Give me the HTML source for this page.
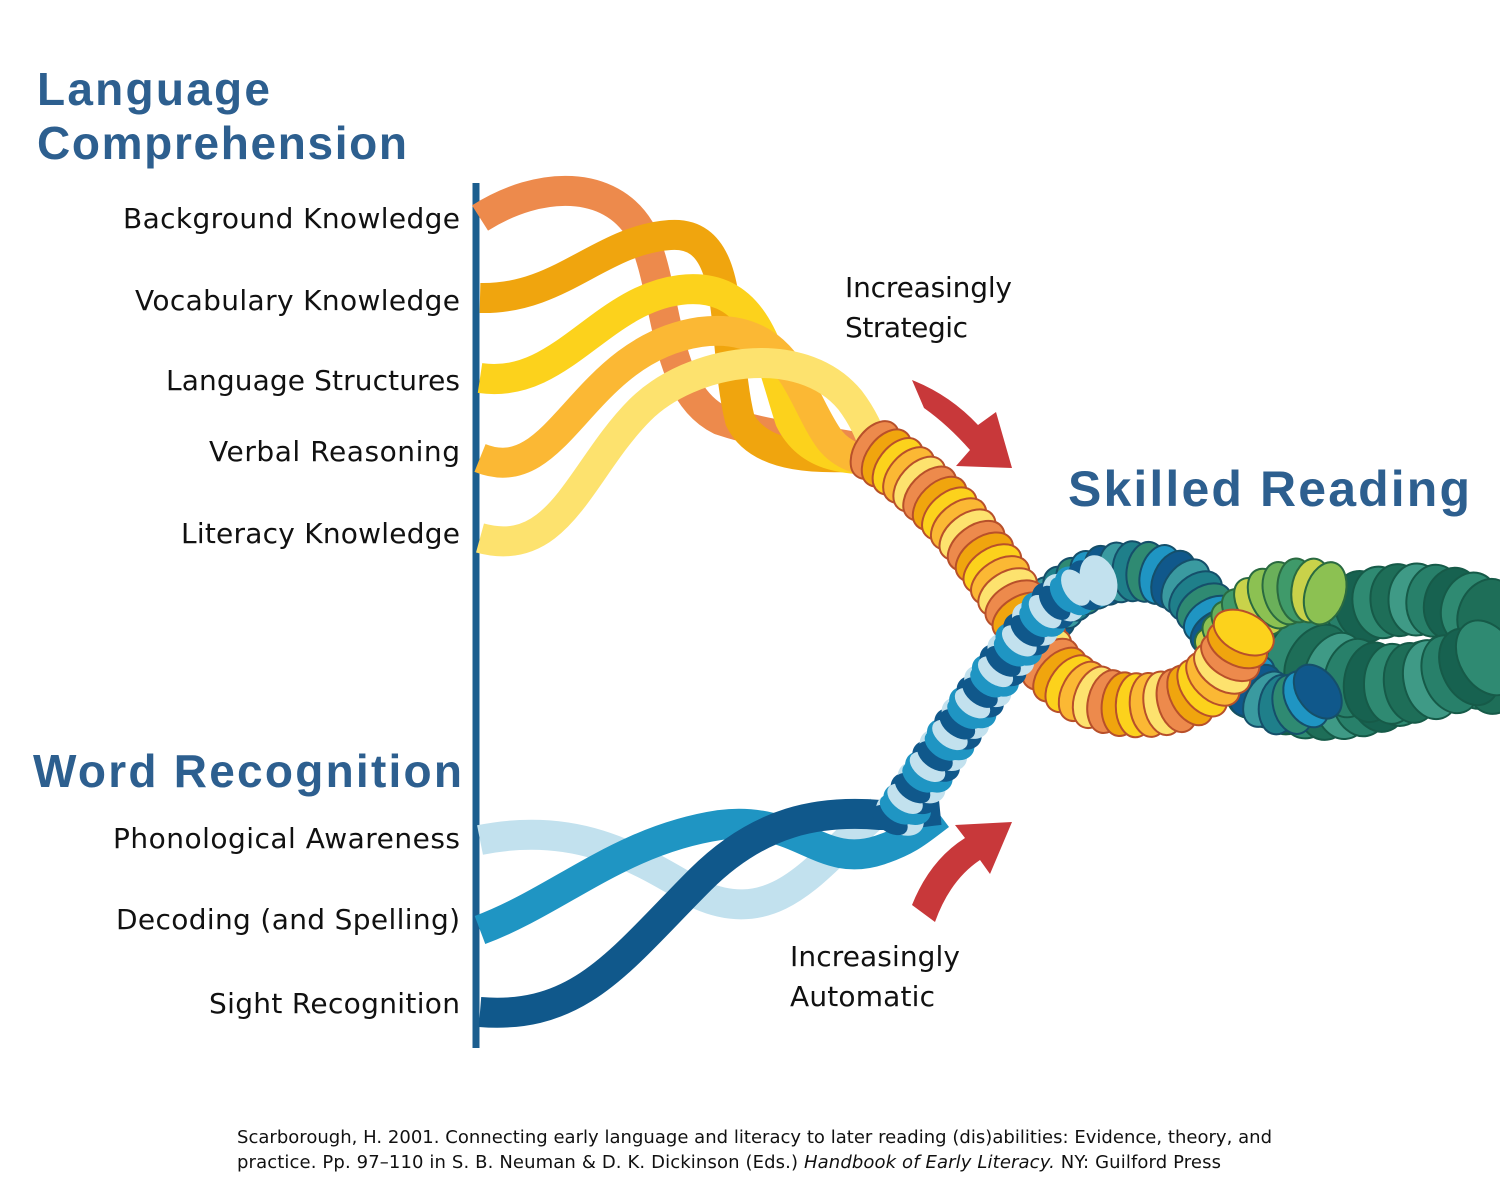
<!DOCTYPE html>
<html><head><meta charset="utf-8"><style>
body{margin:0;background:#fff;}
svg{display:block}
.t{font-family:"Liberation Sans",sans-serif;font-weight:bold;fill:#2d5f8f}
.l{font-family:"DejaVu Sans","Liberation Sans",sans-serif;font-size:28px;fill:#111}
</style></head><body>
<svg id="s" width="1500" height="1200" viewBox="0 0 1500 1200" xmlns="http://www.w3.org/2000/svg">
<rect width="1500" height="1200" fill="#fff"/>
<text class="t" x="37" y="105" font-size="46" textLength="233">Language</text>
<text class="t" x="37" y="159" font-size="46" textLength="370">Comprehension</text>
<text class="t" x="33" y="787" font-size="46" textLength="429">Word Recognition</text>
<text class="t" x="1068" y="506" font-size="50" textLength="402">Skilled Reading</text>
<g class="l" text-anchor="end">
<text x="460" y="228" textLength="337">Background Knowledge</text>
<text x="460" y="310" textLength="325">Vocabulary Knowledge</text>
<text x="460" y="390" textLength="294">Language Structures</text>
<text x="460" y="461" textLength="251">Verbal Reasoning</text>
<text x="460" y="543" textLength="279">Literacy Knowledge</text>
<text x="460" y="848" textLength="347">Phonological Awareness</text>
<text x="460" y="929" textLength="344">Decoding (and Spelling)</text>
<text x="460" y="1013" textLength="251">Sight Recognition</text>
</g>
<g class="l">
<text x="845" y="297" textLength="167">Increasingly</text>
<text x="845" y="337" textLength="123">Strategic</text>
<text x="790" y="966" textLength="170">Increasingly</text>
<text x="790" y="1006" textLength="145">Automatic</text>
</g>
<g font-family="DejaVu Sans,sans-serif" font-size="18" fill="#111">
<text x="237" y="1143" textLength="1035">Scarborough, H. 2001. Connecting early language and literacy to later reading (dis)abilities: Evidence, theory, and</text>
<text x="237" y="1168" textLength="984">practice. Pp. 97–110 in S. B. Neuman &amp; D. K. Dickinson (Eds.) <tspan font-style="italic">Handbook of Early Literacy.</tspan> NY: Guilford Press</text>
</g>
<!-- red arrows -->
<path d="M912 380 Q950 395 978 425 L996 412 L1012 468 L956 466 L970 450 Q948 425 924 408 Z" fill="#c8383a"/>
<path d="M912 905 Q930 860 965 838 L955 825 L1012 822 L990 874 L980 860 Q950 880 935 922 Z" fill="#c8383a"/>
<line x1="476" y1="183" x2="476" y2="1048" stroke="#1b5e8f" stroke-width="7"/>
<g fill="none" stroke-linecap="butt" stroke-width="30">
<path d="M480 218 C540 180 610 180 640 230 C670 290 660 390 720 420 C780 440 830 440 870 450" stroke="#ed8a4c"/>
<path d="M480 298 C560 300 600 240 670 235 C740 230 720 340 740 420 C760 460 820 460 880 455" stroke="#f0a50e"/>
<path d="M480 378 C560 390 600 300 680 290 C760 280 770 360 790 420 C810 460 850 460 890 460" stroke="#fcd21c"/>
<path d="M480 458 C560 490 580 350 700 332 C790 320 800 400 830 440 C850 465 880 460 900 470" stroke="#fbb834"/>
<path d="M480 538 C560 560 580 470 640 410 C690 360 800 340 850 400 C880 440 870 460 900 480" stroke="#fde26e"/>
<path d="M480 840 C580 820 640 860 700 895 C780 930 820 860 880 810" stroke="#c2e1ee"/>
<path d="M480 930 C560 900 620 840 720 825 C800 815 820 870 880 850 C910 840 920 830 940 815" stroke="#1f95c3"/>
<path d="M480 1012 C580 1020 620 960 700 880 C760 820 820 810 880 815 C910 815 920 812 940 810" stroke="#10588b"/>
</g>
<g id="g"></g>
</svg>
<script>
var NS="http://www.w3.org/2000/svg",G=document.getElementById("g");
function chain(d,cols,step,rx,ry,stroke){
 var p=document.createElementNS(NS,"path");p.setAttribute("d",d);G.appendChild(p);
 var L=p.getTotalLength();G.removeChild(p);var i=0;
 for(var s=0;s<=L;s+=step){var a=p.getPointAtLength(s),b=p.getPointAtLength(Math.min(L,s+1));
  var ang=Math.atan2(b.y-a.y,b.x-a.x)*180/Math.PI;
  var e=document.createElementNS(NS,"ellipse");e.setAttribute("cx",a.x);e.setAttribute("cy",a.y);
  e.setAttribute("rx",rx);e.setAttribute("ry",ry);e.setAttribute("fill",cols[i%cols.length]);
  e.setAttribute("stroke",stroke);e.setAttribute("stroke-width",2);
  e.setAttribute("transform","rotate("+ang+" "+a.x+" "+a.y+")");G.appendChild(e);i++;}
}
var warm=["#ed8a4c","#f0a50e","#fcd21c","#fbb834","#fde26e"];
var blue=["#c2e1ee","#1f95c3","#10588b"];
var green=["#2f8a72","#1e6e58","#3f9a86","#28806a","#176250"];
chain("M1300 640 C1360 590 1440 590 1500 620",green,18,28,36,"#165a48");
chain("M1230 660 C1280 720 1360 710 1420 680 C1450 665 1480 670 1500 680",green,18,28,36,"#165a48");
chain("M1300 650 C1360 700 1440 690 1500 650",green,20,28,40,"#165a48");
chain("M1040 625 C1070 570 1150 555 1190 590 C1215 615 1225 650 1255 690 C1280 715 1300 705 1320 690",["#1f95c3","#10588b","#3a9aa0","#1f7f8a","#2f8a72"],14,20,30,"#154f6a");
chain("M1225 650 C1250 600 1290 580 1330 595",["#c9d24a","#8cc152","#6ab05a","#3f9a6a"],14,20,32,"#2a6a40");
chain("M875 450 C950 500 990 560 1030 630 C1060 700 1120 715 1180 700 C1220 685 1235 650 1250 620",warm,14,20,32,"#b8502a");
chain("M900 815 C950 740 990 680 1030 630 C1050 605 1070 590 1100 580",blue,13,18,26,"none");
chain("M890 820 C940 750 980 690 1020 640 C1040 615 1055 600 1080 585",["#10588b","#1f95c3","#c2e1ee"],13,12,20,"none");
</script>
</body></html>
